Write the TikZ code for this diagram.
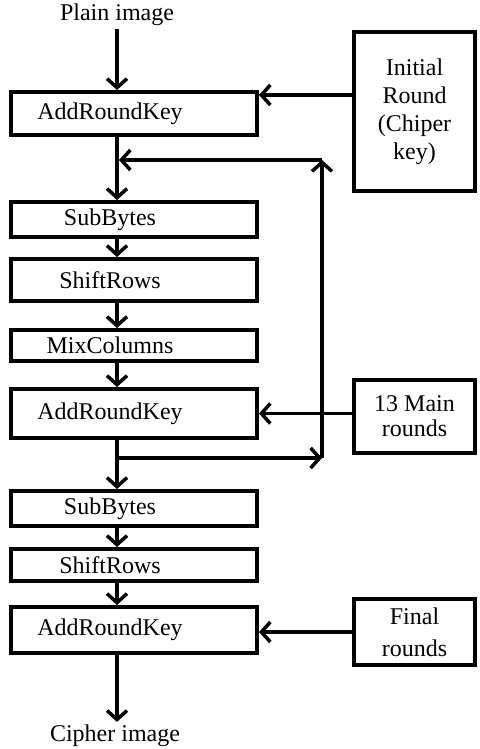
\documentclass[tikz,border=0pt]{standalone}
\usepackage{fontspec}
\setmainfont{Liberation Serif}
\newfontfamily\tnr{Liberation Serif}
\usetikzlibrary{arrows.meta}
\newcommand{\boxlbl}[1]{\makebox[198pt]{#1}\hspace*{48pt}}
\begin{document}
\begin{tikzpicture}[x=1pt,y=-1pt,
  box/.style={draw,line width=4pt,minimum width=244pt,inner sep=0pt,font=\tnr\fontsize{24}{26}\selectfont},
  side/.style={draw,line width=4pt,minimum width=121pt,inner sep=0pt,align=center},
  arr/.style={line width=3.5pt,-{Straight Barb[length=9pt,width=20pt]}},
  lbl/.style={inner sep=3pt,font=\tnr\fontsize{24}{26}\selectfont}]
\useasboundingbox (0,0) rectangle (479,749);
% labels
\node[lbl] (plain) at (117,15) {Plain image};
\node[lbl] (cipher) at (115,736) {Cipher image};
% main column
\node[box,minimum height=43pt] (ark1) at (134,113.5) {\boxlbl{AddRoundKey}};
\node[box,minimum height=35pt] (sb1) at (134,219.5) {\boxlbl{SubBytes}};
\node[box,minimum height=42pt] (sr1) at (134,280) {\boxlbl{ShiftRows}};
\node[box,minimum height=31pt] (mc1) at (134,345.5) {\boxlbl{MixColumns}};
\node[box,minimum height=49pt] (ark2) at (134,413.5) {\boxlbl{AddRoundKey}};
\node[box,minimum height=35pt] (sb2) at (134,508.5) {\boxlbl{SubBytes}};
\node[box,minimum height=32pt] (sr2) at (134,565) {\boxlbl{ShiftRows}};
\node[box,minimum height=46pt] (ark3) at (134,630) {\boxlbl{AddRoundKey}};
% side boxes
\node[side,minimum height=159pt,font=\tnr\fontsize{24}{28}\selectfont] (init) at (414.5,111.5) {Initial\\Round\\(Chiper\\key)};
\node[side,minimum height=73pt,font=\tnr\fontsize{24}{25}\selectfont] (main) at (414.5,416.5) {13 Main\\rounds};
\node[side,minimum height=66pt,font=\tnr\fontsize{24}{32}\selectfont] (final) at (414.5,632) {Final\\rounds};
% coordinates
\coordinate (k1) at (352,95);
\coordinate (tr) at (322,160);
\coordinate (tl) at (119,160);
\coordinate (br) at (322,458);
\coordinate (bl) at (117,458);
% arrows in the column
\draw[arr] (plain.south) -- (plain.south |- ark1.north);
\draw[arr] (ark1.south -| plain) -- (sb1.north -| plain);
\draw[arr] (sb1.south -| plain) -- (sr1.north -| plain);
\draw[arr] (sr1.south -| plain) -- (mc1.north -| plain);
\draw[arr] (mc1.south -| plain) -- (ark2.north -| plain);
\draw[arr] (ark2.south -| plain) -- (sb2.north -| plain);
\draw[arr] (sb2.south -| plain) -- (sr2.north -| plain);
\draw[arr] (sr2.south -| plain) -- (ark3.north -| plain);
\draw[arr] (ark3.south -| plain) -- (cipher.north -| plain);
% key arrows
\draw[arr] (k1) -- (k1 -| ark1.east);
\draw[arr] (main.west |- ark2) -- (ark2.east);
\draw[arr] (final.west) -- (final.west -| ark3.east);
% loop
\draw[arr] (bl) -- (br);
\draw[arr] (br) -- (tr);
\draw[arr] (tr) -- (tl);
\end{tikzpicture}
\end{document}
